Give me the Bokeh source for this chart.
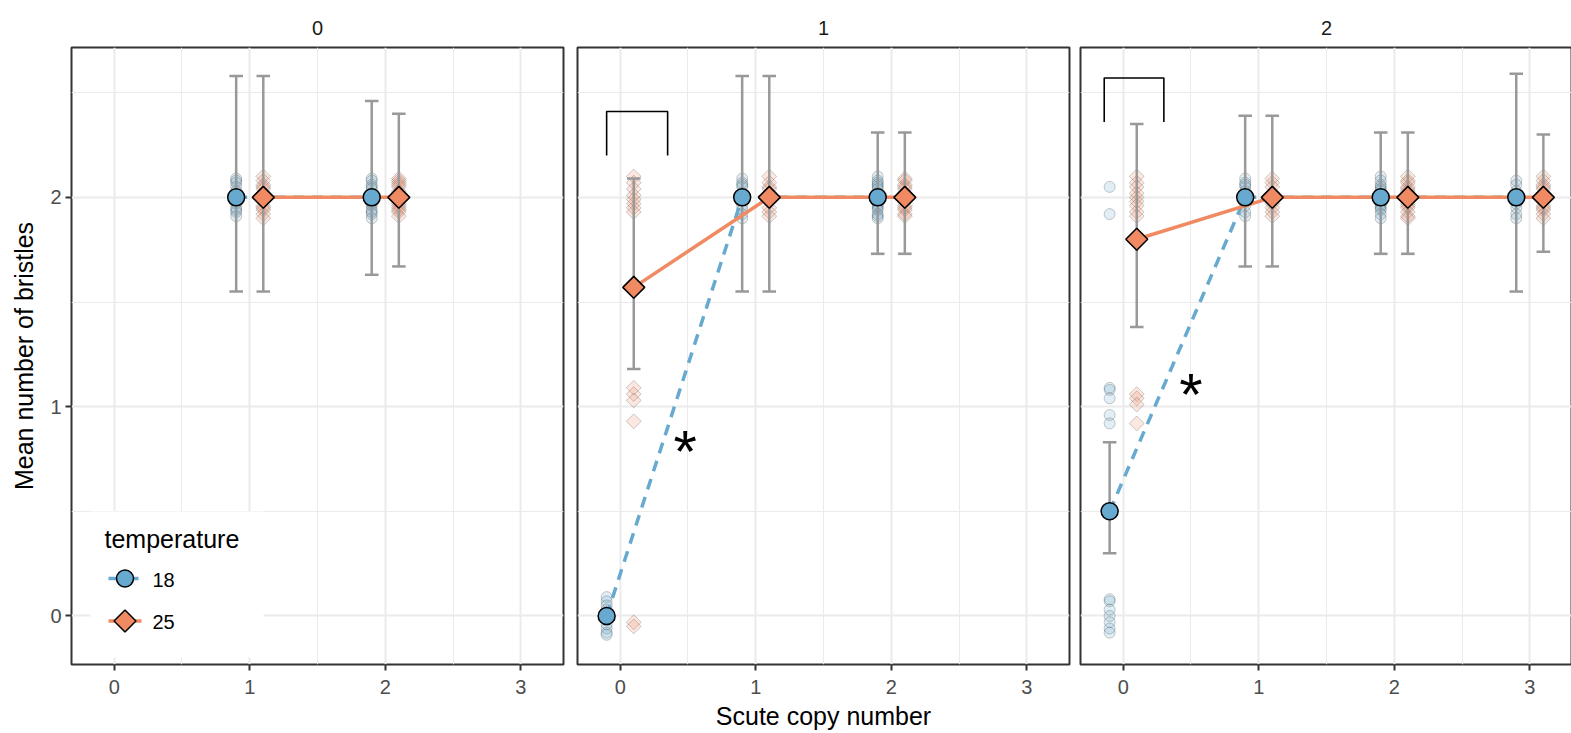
import math
from bokeh.plotting import figure
from bokeh.models import Range1d, FixedTicker
from bokeh.layouts import row
from bokeh.core.properties import value
from bokeh.embed import file_html
from bokeh.resources import INLINE

# ---------------- data ----------------
facets = ["0", "1", "2"]
temperatures = ["18", "25"]
legend_title = "temperature"
copies = [[1, 2], [0, 1, 2], [0, 1, 2, 3]]

mean_18 = [[2.0, 2.0], [0.0, 2.0, 2.0], [0.50, 2.0, 2.0, 2.0]]
lo_18 = [[1.55, 1.63], [0.0, 1.55, 1.73], [0.30, 1.67, 1.73, 1.55]]
hi_18 = [[2.58, 2.46], [0.0, 2.58, 2.31], [0.83, 2.39, 2.31, 2.59]]

mean_25 = [[2.0, 2.0], [1.57, 2.0, 2.0], [1.80, 2.0, 2.0, 2.0]]
lo_25 = [[1.55, 1.67], [1.18, 1.55, 1.73], [1.38, 1.67, 1.73, 1.74]]
hi_25 = [[2.58, 2.40], [2.09, 2.58, 2.31], [2.35, 2.39, 2.31, 2.30]]

# individual flies, as plotted (vertically jittered), keyed by copy number
raw_18_f0 = {1: [2.09, 2.07, 2.05, 2.03, 2.01, 1.99, 1.97, 1.95, 1.93, 1.91, 2.08, 1.94],
             2: [2.09, 2.08, 2.06, 2.04, 2.02, 2.00, 1.98, 1.96, 1.94, 1.92, 1.90, 2.05, 1.97, 1.93]}
raw_25_f0 = {1: [2.10, 2.08, 2.06, 2.04, 2.02, 1.98, 1.96, 1.94, 1.92, 1.90, 2.05, 1.95],
             2: [2.09, 2.08, 2.07, 2.05, 2.03, 2.01, 1.99, 1.97, 1.95, 1.93, 1.91, 2.06, 1.96, 1.94, 2.02]}
raw_18_f1 = {0: [0.09, 0.07, 0.05, 0.03, 0.01, -0.02, -0.04, -0.06, -0.08, -0.09],
             1: [2.09, 2.07, 2.05, 2.02, 1.99, 1.96, 1.94, 1.92, 1.90, 2.06],
             2: [2.10, 2.08, 2.07, 2.05, 2.04, 2.02, 2.01, 1.99, 1.97, 1.95, 1.94, 1.92, 1.91, 1.90, 2.06, 1.96]}
raw_25_f1 = {0: [2.10, 2.07, 2.04, 2.01, 1.97, 1.95, 1.93, 1.99, 1.09, 1.06, 1.03, 0.93, -0.03, -0.05],
             1: [2.10, 2.07, 2.05, 2.02, 1.98, 1.95, 1.93, 1.91, 2.04],
             2: [2.09, 2.08, 2.06, 2.04, 2.02, 2.00, 1.98, 1.96, 1.94, 1.92, 1.91, 2.05, 1.95]}
raw_18_f2 = {0: [2.05, 1.92, 1.09, 1.08, 1.04, 0.96, 0.92, 0.08, 0.07, 0.03, 0.00, -0.03, -0.06, -0.08],
             1: [2.09, 2.07, 2.05, 2.03, 2.01, 1.98, 1.96, 1.93, 1.91, 2.06],
             2: [2.10, 2.08, 2.06, 2.05, 2.03, 2.01, 1.99, 1.97, 1.95, 1.94, 1.92, 1.90, 2.04, 1.96],
             3: [2.08, 2.06, 2.03, 2.01, 1.97, 1.95, 1.92, 1.90]}
raw_25_f2 = {0: [2.10, 2.07, 2.05, 2.02, 2.00, 1.98, 1.96, 1.93, 1.91, 1.06, 1.04, 1.01, 0.92],
             1: [2.09, 2.07, 2.05, 2.02, 1.99, 1.97, 1.95, 1.93, 1.91],
             2: [2.10, 2.08, 2.07, 2.05, 2.03, 2.01, 1.99, 1.97, 1.95, 1.93, 1.91, 1.90, 2.04, 1.96],
             3: [2.10, 2.08, 2.06, 2.04, 2.02, 2.00, 1.98, 1.96, 1.94, 1.92, 1.90, 2.05, 1.95]}
raw_18 = [raw_18_f0, raw_18_f1, raw_18_f2]
raw_25 = [raw_25_f0, raw_25_f1, raw_25_f2]

# significance annotations (bracket + asterisk) per facet
bracket_x = [None, (-0.10, 0.35), (-0.14, 0.30)]
bracket_y = [None, (2.20, 2.41), (2.36, 2.57)]
star_x = [None, 0.48, 0.50]
star_y = [None, 0.83, 1.10]

x_ticks = [0, 1, 2, 3]
y_ticks = [0, 1, 2]

# ---------------- style / layout ----------------
BLUE = "#67A9CF"
ORANGE = "#EF8A62"
FONT = "Liberation Sans"
DODGE = 0.1
CAP = 0.05
FW, FH = 492, 617
XR = (-0.315, 3.315)
YR = (-0.232, 2.716)


def fx(px):
    """frame-relative pixel offset from the left edge -> data x"""
    return XR[0] + px * (XR[1] - XR[0]) / FW


def fy(py):
    """frame-relative pixel offset from the bottom edge -> data y"""
    return YR[0] + py * (YR[1] - YR[0]) / FH


def style_axis(ax, standoff):
    ax.axis_line_color = None
    ax.major_tick_in = 0
    ax.major_tick_out = 6
    ax.major_tick_line_color = "#333333"
    ax.major_tick_line_width = 2
    ax.minor_tick_line_color = None
    ax.major_label_text_font = FONT
    ax.major_label_text_font_size = "20px"
    ax.major_label_text_color = "#4D4D4D"
    ax.axis_label_text_font = FONT
    ax.axis_label_text_font_size = "25px"
    ax.axis_label_text_font_style = "normal"
    ax.axis_label_text_color = "black"
    ax.axis_label_standoff = standoff


panels = []
for i, fac in enumerate(facets):
    first = i == 0
    p = figure(frame_width=FW, frame_height=FH,
               x_range=Range1d(*XR), y_range=Range1d(*YR),
               output_backend="svg", toolbar_location=None,
               y_axis_location="left" if first else None,
               min_border_left=71 if first else (7 if i == 1 else 6),
               min_border_right=7 if i == 0 else (5 if i == 1 else 0),
               min_border_top=47, min_border_bottom=69,
               background_fill_color="white", border_fill_color="white",
               title=fac)
    p.title.align = "center"
    p.title.text_font = FONT
    p.title.text_font_size = "20px"
    p.title.text_font_style = "normal"
    p.title.text_color = "#1A1A1A"
    p.title.standoff = 26

    p.outline_line_color = "#333333"
    p.outline_line_width = 2
    p.outline_line_alpha = 1

    p.xaxis.ticker = FixedTicker(ticks=x_ticks, minor_ticks=[-0.5, 0.5, 1.5, 2.5, 3.5])
    p.xaxis.axis_label = "Scute copy number" if i == 1 else None
    for ax in p.xaxis:
        style_axis(ax, 5)
        ax.major_label_standoff = 9
    if first:
        p.yaxis.ticker = FixedTicker(ticks=y_ticks, minor_ticks=[-0.5, 0.5, 1.5, 2.5])
        p.yaxis.axis_label = "Mean number of bristles"
        for ax in p.yaxis:
            style_axis(ax, 9)
            ax.major_label_standoff = 4
    else:
        for g in p.ygrid:
            g.ticker = FixedTicker(ticks=y_ticks, minor_ticks=[-0.5, 0.5, 1.5, 2.5])

    for g in list(p.xgrid) + list(p.ygrid):
        g.grid_line_color = "#EBEBEB"
        g.grid_line_width = 2
        g.minor_grid_line_color = "#EBEBEB"
        g.minor_grid_line_width = 1

    # individual points (jittered)
    for raw, color, off, shape in ((raw_18[i], BLUE, -DODGE, "circle"), (raw_25[i], ORANGE, DODGE, "diamond")):
        xs, ys = [], []
        for c, vals in raw.items():
            xs += [c + off] * len(vals)
            ys += vals
        if shape == "circle":
            p.scatter(xs, ys, marker="circle", size=11, fill_color=color, fill_alpha=0.2,
                      line_color="black", line_alpha=0.2, line_width=1)
        else:
            p.scatter(xs, ys, marker="square", angle=math.pi / 4, size=10.5, fill_color=color, fill_alpha=0.2,
                      line_color="black", line_alpha=0.2, line_width=1)

    # error bars
    for m, lo, hi, off in ((mean_18[i], lo_18[i], hi_18[i], -DODGE), (mean_25[i], lo_25[i], hi_25[i], DODGE)):
        xs = [c + off for c in copies[i]]
        p.segment(x0=xs, y0=lo, x1=xs, y1=hi, line_color="#999999", line_width=2.5)
        p.segment(x0=[x - CAP for x in xs], y0=lo, x1=[x + CAP for x in xs], y1=lo, line_color="#999999", line_width=2.5)
        p.segment(x0=[x - CAP for x in xs], y0=hi, x1=[x + CAP for x in xs], y1=hi, line_color="#999999", line_width=2.5)

    # mean lines
    x18 = [c - DODGE for c in copies[i]]
    x25 = [c + DODGE for c in copies[i]]
    p.line(x18, mean_18[i], line_color=BLUE, line_width=3.5, line_dash="11 8")
    p.line(x25, mean_25[i], line_color=ORANGE, line_width=3.5)

    # mean points
    p.scatter(x18, mean_18[i], marker="circle", size=17, fill_color=BLUE, line_color="black", line_width=1.5)
    p.scatter(x25, mean_25[i], marker="square", angle=math.pi / 4, size=15.5, fill_color=ORANGE,
              line_color="black", line_width=1.5)

    # significance annotation
    if bracket_x[i] is not None:
        bx0, bx1 = bracket_x[i]
        by0, by1 = bracket_y[i]
        p.line([bx0, bx0, bx1, bx1], [by0, by1, by1, by0], line_color="black", line_width=1.6)
        p.text(x=[star_x[i]], y=[star_y[i]], text=["*"], text_font=value(FONT), text_font_size="60px",
               text_align="center", text_baseline="alphabetic", y_offset=9, text_color="black")

    if first:
        # ggplot-style legend (line + marker keys), inside the first panel, bottom-left
        p.quad(left=[fx(19)], right=[fx(192)], bottom=[fy(7)], top=[fy(153)],
               fill_color="white", line_color=None)
        p.text(x=[fx(33)], y=[fy(126)], text=[legend_title], text_font=value(FONT), text_font_size="25px",
               text_align="left", text_baseline="alphabetic", text_color="black")
        key_y = [fy(86), fy(43.5)]
        p.segment(x0=[fx(37)], y0=[key_y[0]], x1=[fx(70)], y1=[key_y[0]],
                  line_color=BLUE, line_width=3.5, line_dash="11 8")
        p.segment(x0=[fx(37)], y0=[key_y[1]], x1=[fx(70)], y1=[key_y[1]],
                  line_color=ORANGE, line_width=3.5)
        p.scatter([fx(53.5)], [key_y[0]], marker="circle", size=17, fill_color=BLUE,
                  line_color="black", line_width=1.5)
        p.scatter([fx(53.5)], [key_y[1]], marker="square", angle=math.pi / 4, size=15.5,
                  fill_color=ORANGE, line_color="black", line_width=1.5)
        p.text(x=[fx(81), fx(81)], y=key_y, text=temperatures, text_font=value(FONT),
               text_font_size="20px", text_align="left", text_baseline="alphabetic",
               y_offset=1, text_color="black")

    panels.append(p)

layout = row(*panels, spacing=0)
open("out.html", "w").write(file_html(layout, INLINE))
